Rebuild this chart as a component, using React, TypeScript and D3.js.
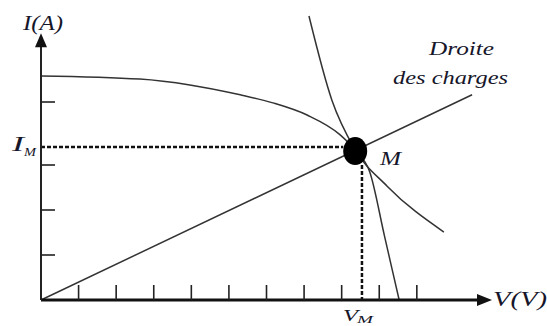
import React from "react";
import * as d3 from "d3";

// I–V characteristic of the source (V, I)
const ivVolt = [0, 2.63, 3.96, 5.3, 6.17, 7.08, 7.96, 8.36, 8.75, 9.14, 9.53];
const ivAmp = [4.98, 4.91, 4.78, 4.56, 4.38, 4.11, 3.67, 3.33, 2.84, 1.42, 0];

// Iso-power curve passing through the operating point
const powVolt = [7.13, 7.74, 8.33, 9.21, 10.72];
const powAmp = [6.31, 4.44, 3.38, 2.53, 1.51];

// Load line (droite des charges)
const loadVolt = [0, 11.47];
const loadAmp = [0, 4.56];

// Operating point M and its projections
const markV = 8.36;
const markI = 3.31;
const guideV = 8.54;
const guideI = 3.4;

// Axis ticks
const xTicks = [1, 2, 3, 4, 5, 6, 7, 8, 9, 10];
const yTicks = [1, 2, 3, 4.4];

const W = 547;
const H = 326;

export default function App() {
  const x = d3.scaleLinear().domain([0, 12]).range([41, 492]);
  const y = d3.scaleLinear().domain([0, 6]).range([300, 30]);

  const line = d3
    .line<[number, number]>()
    .x((d) => x(d[0]))
    .y((d) => y(d[1]));
  const smooth = d3
    .line<[number, number]>()
    .x((d) => x(d[0]))
    .y((d) => y(d[1]))
    .curve(d3.curveMonotoneX);

  const iv = ivVolt.map((v, i) => [v, ivAmp[i]] as [number, number]);
  const pw = powVolt.map((v, i) => [v, powAmp[i]] as [number, number]);
  const ld = loadVolt.map((v, i) => [v, loadAmp[i]] as [number, number]);

  const x0 = x(0);
  const y0 = y(0);
  const yTop = y(5.93);
  const xEnd = x(12);
  const rx = 12;
  const ry = 14;
  const cx = x(markV);
  const cy = y(markI);

  const font = "'Liberation Serif', 'Times New Roman', serif";
  const ink = "#16162a";

  return (
    <svg
      width={W}
      height={H}
      style={{ position: "absolute", left: 0, top: 0, background: "#fff" }}
    >
      {/* curves */}
      <path d={smooth(iv) || ""} fill="none" stroke="#333" strokeWidth={1.5} />
      <path d={smooth(pw) || ""} fill="none" stroke="#333" strokeWidth={1.5} />
      <path d={line(ld) || ""} fill="none" stroke="#333" strokeWidth={1.5} />

      {/* projections of M */}
      <line
        x1={x0}
        x2={cx - rx}
        y1={y(guideI)}
        y2={y(guideI)}
        stroke="#111"
        strokeWidth={2.5}
        strokeDasharray="4,2"
      />
      <line
        x1={x(guideV)}
        x2={x(guideV)}
        y1={cy + ry}
        y2={y0}
        stroke="#111"
        strokeWidth={2.5}
        strokeDasharray="4,2"
      />

      {/* axes */}
      <line x1={x0} x2={xEnd - 12} y1={y0} y2={y0} stroke="#111" strokeWidth={2.8} />
      <line x1={x0} x2={x0} y1={y0} y2={yTop + 12} stroke="#222" strokeWidth={2} />
      <path
        d={`M${xEnd},${y0} L${xEnd - 15},${y0 - 6} L${xEnd - 15},${y0 + 6} Z`}
        fill="#111"
      />
      <path
        d={`M${x0},${yTop} L${x0 - 6},${yTop + 14} L${x0 + 6},${yTop + 14} Z`}
        fill="#111"
      />
      {xTicks.map((t) => (
        <line
          key={"xt" + t}
          x1={x(t)}
          x2={x(t)}
          y1={y0}
          y2={y0 - 15}
          stroke="#222"
          strokeWidth={1.6}
        />
      ))}
      {yTicks.map((t) => (
        <line
          key={"yt" + t}
          x1={x0}
          x2={x0 + 14}
          y1={y(t)}
          y2={y(t)}
          stroke="#222"
          strokeWidth={1.6}
        />
      ))}

      {/* operating point */}
      <ellipse cx={cx} cy={cy} rx={rx} ry={ry} fill="#000" />

      {/* labels */}
      <g fontFamily={font} fontStyle="italic" fontWeight="normal" fill={ink}>
        <text x={23} y={30} fontSize={20} textLength={40} lengthAdjust="spacingAndGlyphs">
          I(A)
        </text>
        <text x={493} y={306} fontSize={20} textLength={54} lengthAdjust="spacingAndGlyphs">
          V(V)
        </text>
        <text x={429} y={55} fontSize={18} textLength={65} lengthAdjust="spacingAndGlyphs">
          Droite
        </text>
        <text x={393} y={84} fontSize={18} textLength={115} lengthAdjust="spacingAndGlyphs">
          des charges
        </text>
        <text x={380} y={165} fontSize={19} textLength={21} lengthAdjust="spacingAndGlyphs">
          M
        </text>
        <text x={12} y={151} fontSize={21} textLength={12} lengthAdjust="spacingAndGlyphs">
          I
        </text>
        <text x={24} y={156} fontSize={13} textLength={12} lengthAdjust="spacingAndGlyphs">
          M
        </text>
        <text x={343} y={321} fontSize={17} textLength={15} lengthAdjust="spacingAndGlyphs">
          V
        </text>
        <text x={357} y={323} fontSize={11} textLength={16} lengthAdjust="spacingAndGlyphs">
          M
        </text>
      </g>
    </svg>
  );
}
